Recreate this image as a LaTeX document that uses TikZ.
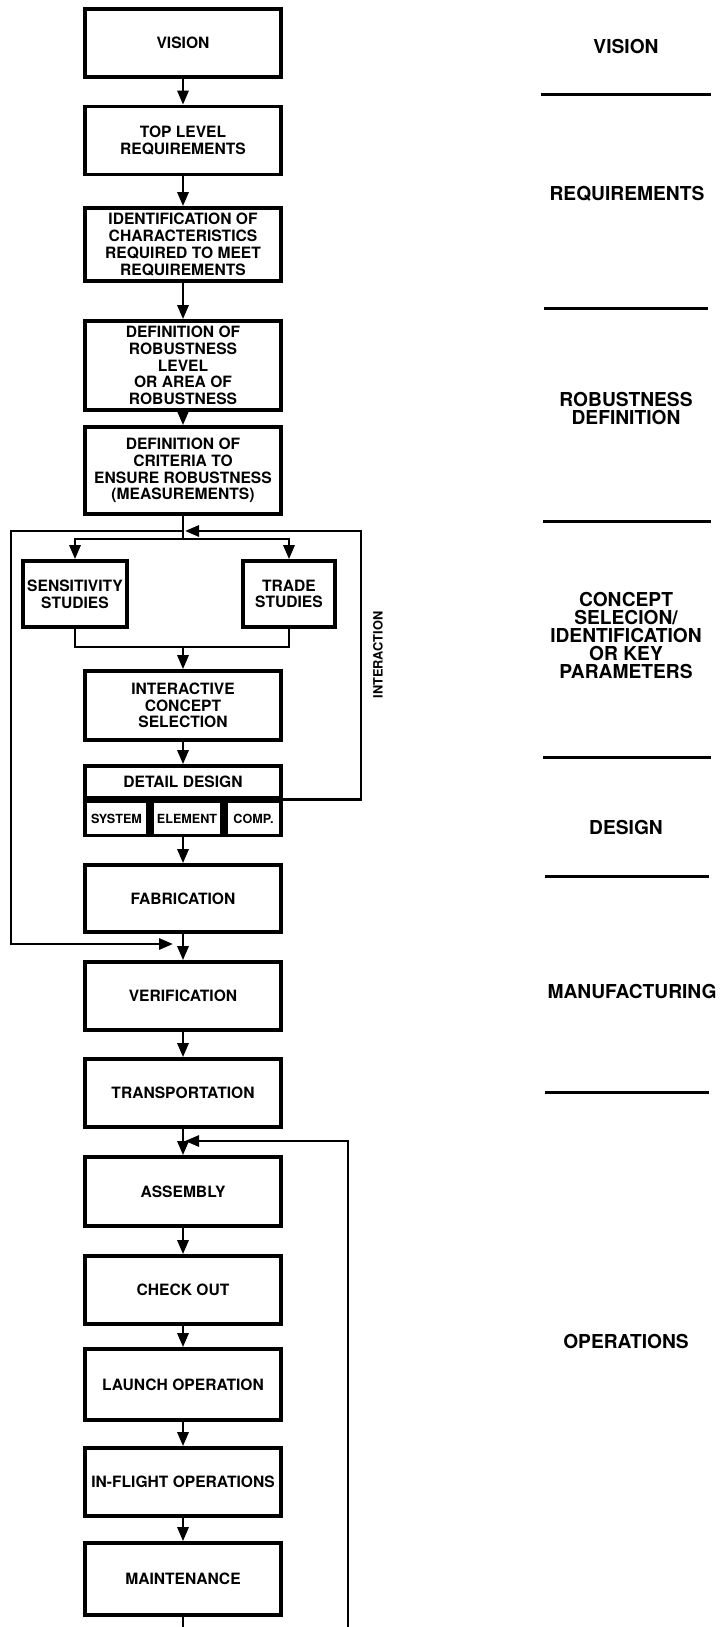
\documentclass[tikz,border=0pt]{standalone}
\usepackage{fontspec}
\setmainfont{TeX Gyre Heros}
\usetikzlibrary{positioning, arrows.meta}
\tikzset{
  stepbox/.style={
    draw, line width=1.8pt, align=center, inner sep=2pt,
    font=\fontsize{7.8}{8.4}\selectfont\bfseries,
    minimum width=98pt, minimum height=34pt
  },
  studybox/.style={stepbox, minimum height=33pt},
  cellbox/.style={
    draw, line width=1.8pt, inner sep=1pt, minimum height=17pt,
    font=\fontsize{6.3}{7}\selectfont\bfseries
  },
  phase/.style={font=\fontsize{9.6}{9}\selectfont\bfseries, align=center},
  flow/.style={line width=1.4pt, -{Triangle[length=7pt,width=5.5pt]}},
  link/.style={line width=1.4pt},
  rule/.style={line width=1.5pt}
}

\begin{document}
\begin{tikzpicture}[x=0.5pt, y=-0.5pt]
  \fill[white] (0,0) rectangle (724,1627);
  \useasboundingbox (0,0) rectangle (724,1627);

  % main column
  \node[stepbox] (vision) at (183,43) {VISION};
  \node[stepbox] (tlr) at (183,140.5) {TOP LEVEL\\REQUIREMENTS};
  \node[stepbox, minimum height=36.5pt] (ident) at (183,244.5)
    {IDENTIFICATION OF\\CHARACTERISTICS\\REQUIRED TO MEET\\REQUIREMENTS};
  \node[stepbox, minimum height=44.5pt] (defrob) at (183,365.5)
    {DEFINITION OF\\ROBUSTNESS\\LEVEL\\OR AREA OF\\ROBUSTNESS};
  \node[stepbox, minimum height=43.5pt] (crit) at (183,470.5)
    {DEFINITION OF\\CRITERIA TO\\ENSURE ROBUSTNESS\\(MEASUREMENTS)};
  \node[studybox, minimum width=52pt] (sens) at (75,594) {SENSITIVITY\\STUDIES};
  \node[studybox, minimum width=46pt] (trade) at (289,594) {TRADE\\STUDIES};
  \node[stepbox, minimum height=34.5pt] (ics) at (183,705.5)
    {INTERACTIVE\\CONCEPT\\SELECTION};
  \node[stepbox, minimum height=16pt] (ddhead) at (183,782) {DETAIL DESIGN};
  \node[cellbox, minimum width=31.5pt] (sys) at (116.5,818.5) {SYSTEM};
  \node[cellbox, minimum width=35pt] (elem) at (187,818.5) {ELEMENT};
  \node[cellbox, minimum width=27.5pt] (comp) at (253.5,818.5) {COMP.};
  \node[stepbox, minimum height=33.5pt] (fab) at (183,898.5) {FABRICATION};
  \node[stepbox] (verif) at (183,996) {VERIFICATION};
  \node[stepbox] (transp) at (183,1093) {TRANSPORTATION};
  \node[stepbox, minimum height=34.5pt] (assembly) at (183,1191.5) {ASSEMBLY};
  \node[stepbox] (checkout) at (183,1290) {CHECK OUT};
  \node[stepbox, minimum height=35.5pt] (launch) at (183,1384.5) {LAUNCH OPERATION};
  \node[stepbox] (inflight) at (183,1482) {IN-FLIGHT OPERATIONS};
  \node[stepbox, minimum height=36pt] (maint) at (183,1579) {MAINTENANCE};
  \node[rotate=90, font=\fontsize{6.4}{7}\selectfont\bfseries] (interlbl)
    at (378,655) {INTERACTION};

  % junctions
  \coordinate (topjoin) at (183,531);
  \coordinate (split) at (183,539);
  \coordinate (merge) at (183,647);
  \coordinate (botjoin) at (183,944);
  \coordinate (retjoin) at (183,1141);
  \coordinate (bypass) at (11,0);
  \coordinate (interx) at (361,0);
  \coordinate (mainend) at (183,1627);
  \coordinate (retend) at (348,1627);

  \draw[flow] (vision) -- (tlr);
  \draw[flow] (tlr) -- (ident);
  \draw[flow] (ident) -- (defrob);
  \draw[flow] (defrob) -- (crit);
  \draw[link] (crit) -- (split);
  \draw[flow] (split) -| (sens);
  \draw[flow] (split) -| (trade);
  \draw[link] (sens) |- (merge);
  \draw[link] (trade) |- (merge);
  \draw[flow] (merge) -- (ics);
  \draw[flow] (ics) -- (ddhead);
  \draw[flow] (ddhead |- elem.south) -- (fab);
  \draw[link] (fab) -- (botjoin);
  \draw[flow] (botjoin) -- (verif);
  \draw[flow] (verif) -- (transp);
  \draw[link] (transp) -- (retjoin);
  \draw[flow] (retjoin) -- (assembly);
  \draw[flow] (assembly) -- (checkout);
  \draw[flow] (checkout) -- (launch);
  \draw[flow] (launch) -- (inflight);
  \draw[flow] (inflight) -- (maint);
  \draw[link] (maint) -- (mainend);

  % loops
  \draw[flow, shorten >=5pt] (topjoin) -- (topjoin -| bypass)
    -- (botjoin -| bypass) -- (botjoin);
  \draw[flow, shorten >=1pt] (ddhead.south east) -- (ddhead.south east -| interx)
    -- (topjoin -| interx) -- (topjoin);
  \draw[flow, shorten >=1pt] (retend) -- (retend |- retjoin) -- (retjoin);

  % phases
  \node[phase] (phvision) at (626,47) {VISION};
  \node[phase] (phreq) at (627,194) {REQUIREMENTS};
  \node[phase] (phrob) at (626,408) {ROBUSTNESS\\DEFINITION};
  \node[phase] (phconcept) at (626,635)
    {CONCEPT\\SELECION/\\IDENTIFICATION\\OR KEY\\PARAMETERS};
  \node[phase] (phdesign) at (626,827) {DESIGN};
  \node[phase] (phmanuf) at (632,991) {MANUFACTURING};
  \node[phase] (phops) at (626,1341) {OPERATIONS};
  \foreach \y/\a/\b in {95/541/711, 308/544/708, 521/543/711,
                        757/543/711, 876/545/709, 1092/545/709}
    \draw[rule] (\a,\y) -- (\b,\y);
\end{tikzpicture}
\end{document}
